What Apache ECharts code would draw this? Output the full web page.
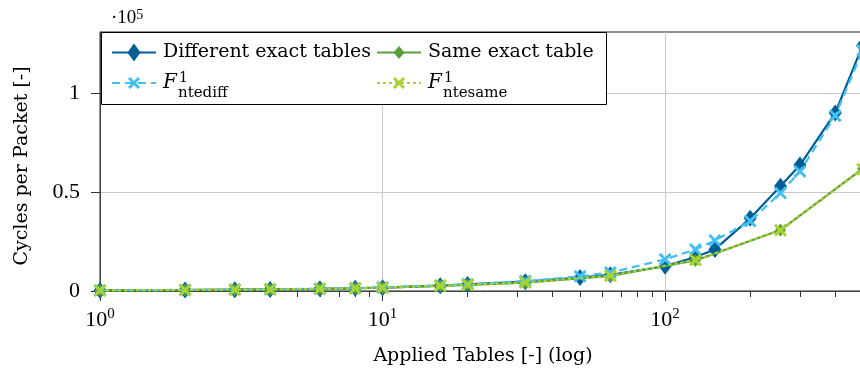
<!DOCTYPE html>
<html>
<head>
<meta charset="utf-8">
<script src="https://cdn.jsdelivr.net/npm/echarts@6/dist/echarts.min.js"></script>
<style>
  html, body { margin: 0; padding: 0; background: #fff; }
  #chart { width: 860px; height: 374px; }
</style>
</head>
<body>
<div id="chart"></div>
<script>
// Applied tables vs. processing cost (cycles per packet)
const tablesDiff       = [1, 2, 3, 4, 6, 8, 10, 16, 20, 32, 50, 64, 100, 128, 150, 200, 256, 300, 400, 500];
const cyclesDiffExact  = [300, 500, 650, 800, 1100, 1400, 1700, 2700, 3300, 4700, 6800, 8200, 12500, 17200, 21000, 36700, 52900, 63600, 89900, 124000];
const cyclesDiffModel  = [350, 550, 700, 850, 1150, 1450, 1800, 2800, 3400, 5000, 7400, 9300, 16000, 21000, 25500, 35300, 49500, 60400, 88500, 121500];
const tablesSame       = [1, 2, 3, 4, 6, 8, 10, 16, 20, 32, 64, 128, 256, 500];
const cyclesSameExact  = [300, 500, 650, 800, 1100, 1400, 1700, 2600, 3100, 4200, 7600, 15400, 30800, 61800];
const cyclesSameModel  = [300, 500, 650, 800, 1100, 1400, 1700, 2600, 3100, 4300, 7700, 15600, 30700, 61500];

// Axis tick positions
const xMinorTicks = [2, 3, 4, 5, 6, 7, 8, 9, 20, 30, 40, 50, 60, 70, 80, 90, 200, 300, 400, 500];
const yTicks = [0, 50000, 100000];

const SERIF = '"Liberation Serif", "Times New Roman", serif';
const WORDS = '"DejaVu Serif", "Liberation Serif", serif';
const C_DIFF = '#005e96';
const C_DIFF_MODEL = '#42bff0';
const C_SAME = '#5a9e3a';
const C_SAME_MODEL = '#a9d233';
const CROSS = 'path://M0,1.6L1.6,0L5,3.4L8.4,0L10,1.6L6.6,5L10,8.4L8.4,10L5,6.6L1.6,10L0,8.4L3.4,5Z';

const zip = (xs, ys) => xs.map((x, i) => [x, ys[i]]);

const chart = echarts.init(document.getElementById('chart'), null, { renderer: 'canvas' });

function lineSeries(name, xs, ys, color, opts) {
  return Object.assign({
    name: name,
    type: 'line',
    xAxisIndex: 0,
    yAxisIndex: 0,
    data: zip(xs, ys),
    showAllSymbol: true,
    silent: true,
    itemStyle: { color: color, borderWidth: 0 },
    emphasis: { disabled: true }
  }, opts);
}

// Legend drawn as a boxed two-column key
const legendRowY = [52.5, 83];
const legendColX = [112, 377];
function legendLine(x, y, color, dash) {
  return { type: 'line', z: 100, shape: { x1: x, y1: y, x2: x + 44, y2: y },
           style: { stroke: color, lineWidth: 2.2, lineDash: dash || null } };
}
function legendDiamond(cx, cy, w, h, color) {
  return { type: 'polygon', z: 101,
           shape: { points: [[cx, cy - h / 2], [cx + w / 2, cy], [cx, cy + h / 2], [cx - w / 2, cy]] },
           style: { fill: color } };
}
function legendCross(cx, cy, r, color) {
  return { type: 'group', z: 101, children: [
    { type: 'line', z: 101, shape: { x1: cx - r, y1: cy - r, x2: cx + r, y2: cy + r }, style: { stroke: color, lineWidth: 3 } },
    { type: 'line', z: 101, shape: { x1: cx - r, y1: cy + r, x2: cx + r, y2: cy - r }, style: { stroke: color, lineWidth: 3 } }
  ]};
}
function legendText(x, y, text) {
  return { type: 'text', z: 101, x: x, y: y,
           style: { text: text, font: '19px ' + WORDS, fill: '#000', verticalAlign: 'middle', align: 'left' } };
}
function legendF(x, y, sub) {
  return { type: 'group', z: 101, children: [
    { type: 'text', z: 101, x: x, y: y, style: { text: 'F', font: 'italic 20px ' + WORDS, fill: '#000', verticalAlign: 'middle' } },
    { type: 'text', z: 101, x: x + 16, y: y - 5, style: { text: '1', font: '14px ' + WORDS, fill: '#000', verticalAlign: 'middle' } },
    { type: 'text', z: 101, x: x + 15, y: y + 10, style: { text: sub, font: '15px ' + WORDS, fill: '#000', verticalAlign: 'middle' } }
  ]};
}

const graphics = [
  { type: 'rect', z: 99, shape: { x: 101.5, y: 32.5, width: 505, height: 72 },
    style: { fill: '#fff', stroke: '#000', lineWidth: 1 } },
  legendLine(legendColX[0], legendRowY[0], C_DIFF),
  legendDiamond(legendColX[0] + 22, legendRowY[0], 13, 18, C_DIFF),
  legendText(163, legendRowY[0], 'Different exact tables'),
  legendLine(legendColX[1], legendRowY[0], C_SAME),
  legendDiamond(legendColX[1] + 22, legendRowY[0], 11, 13, C_SAME),
  legendText(428, legendRowY[0], 'Same exact table'),
  legendLine(legendColX[0], legendRowY[1], C_DIFF_MODEL, [8, 5]),
  legendCross(legendColX[0] + 22, legendRowY[1], 5, C_DIFF_MODEL),
  legendF(163, legendRowY[1], 'ntediff'),
  legendLine(legendColX[1], legendRowY[1], C_SAME_MODEL, [3, 3]),
  legendCross(legendColX[1] + 22, legendRowY[1], 5, C_SAME_MODEL),
  legendF(428, legendRowY[1], 'ntesame'),
  // axis titles and the y scale factor
  { type: 'text', x: 483, y: 356,
    style: { text: 'Applied Tables [-] (log)', font: '19px ' + WORDS, fill: '#000', align: 'center', verticalAlign: 'middle' } },
  { type: 'text', x: 22, y: 166, rotation: Math.PI / 2,
    style: { text: 'Cycles per Packet [-]', font: '19px ' + WORDS, fill: '#000', align: 'center', verticalAlign: 'middle' } },
  { type: 'text', x: 111, y: 18,
    style: { text: '{d|·10}{s|5}', verticalAlign: 'middle',
             rich: { d: { font: '19px ' + SERIF, fill: '#000', lineHeight: 20, verticalAlign: 'bottom' },
                     s: { font: '14px ' + SERIF, fill: '#000', lineHeight: 12, verticalAlign: 'top' } } } }
];

const option = {
  animation: false,
  backgroundColor: '#fff',
  grid: {
    left: 100, top: 32, bottom: 83, right: -25,
    containLabel: false, outerBoundsMode: 'none',
    show: true, borderColor: '#222', borderWidth: 1, backgroundColor: 'transparent'
  },
  xAxis: [
    {
      type: 'log', logBase: 10, min: 1, max: 600,
      axisLine: { show: true, onZero: false, lineStyle: { color: '#444', width: 1 } },
      axisTick: { show: true, length: 10, inside: false, lineStyle: { color: '#333' } },
      splitLine: { show: true, lineStyle: { color: '#c8c8c8', width: 1 } },
      axisLabel: {
        margin: 16, showMaxLabel: false,
        formatter: v => '{b|10}{s|' + Math.round(Math.log10(v)) + '}',
        rich: {
          b: { fontFamily: SERIF, fontSize: 22, color: '#000', lineHeight: 24, verticalAlign: 'bottom' },
          s: { fontFamily: SERIF, fontSize: 15, color: '#000', lineHeight: 13, verticalAlign: 'top' }
        }
      }
    },
    {
      type: 'log', logBase: 10, min: 1, max: 600, position: 'bottom',
      axisLine: { show: false, onZero: false },
      axisLabel: { show: false },
      splitLine: { show: false },
      axisTick: { show: true, length: 6, inside: false, customValues: xMinorTicks, lineStyle: { color: '#333' } }
    }
  ],
  yAxis: {
    type: 'value', min: 0, max: 130800, interval: 50000,
    axisLine: { show: true, onZero: false, lineStyle: { color: '#444', width: 1 } },
    axisTick: { show: true, length: 9, inside: false, customValues: yTicks, lineStyle: { color: '#333' } },
    splitLine: { show: true, lineStyle: { color: '#c8c8c8', width: 1 } },
    axisLabel: {
      margin: 20, customValues: yTicks,
      fontFamily: SERIF, fontSize: 22, color: '#000',
      formatter: v => String(v / 1e5)
    }
  },
  series: [
    lineSeries('Different exact tables', tablesDiff, cyclesDiffExact, C_DIFF, {
      symbol: 'diamond', symbolSize: [13, 17], z: 2,
      lineStyle: { color: C_DIFF, width: 2.2 }
    }),
    lineSeries('Same exact table', tablesSame, cyclesSameExact, C_SAME, {
      symbol: 'diamond', symbolSize: [11, 13], z: 3,
      lineStyle: { color: C_SAME, width: 2.2 }
    }),
    lineSeries('F_ntediff', tablesDiff, cyclesDiffModel, C_DIFF_MODEL, {
      symbol: CROSS, symbolSize: [13, 13], z: 4,
      lineStyle: { color: C_DIFF_MODEL, width: 2.2, type: [8, 5] }
    }),
    lineSeries('F_ntesame', tablesSame, cyclesSameModel, C_SAME_MODEL, {
      symbol: CROSS, symbolSize: [13, 13], z: 5,
      lineStyle: { color: C_SAME_MODEL, width: 2.2, type: [3, 3] }
    })
  ],
  graphic: graphics
};

chart.setOption(option);
</script>
</body>
</html>
